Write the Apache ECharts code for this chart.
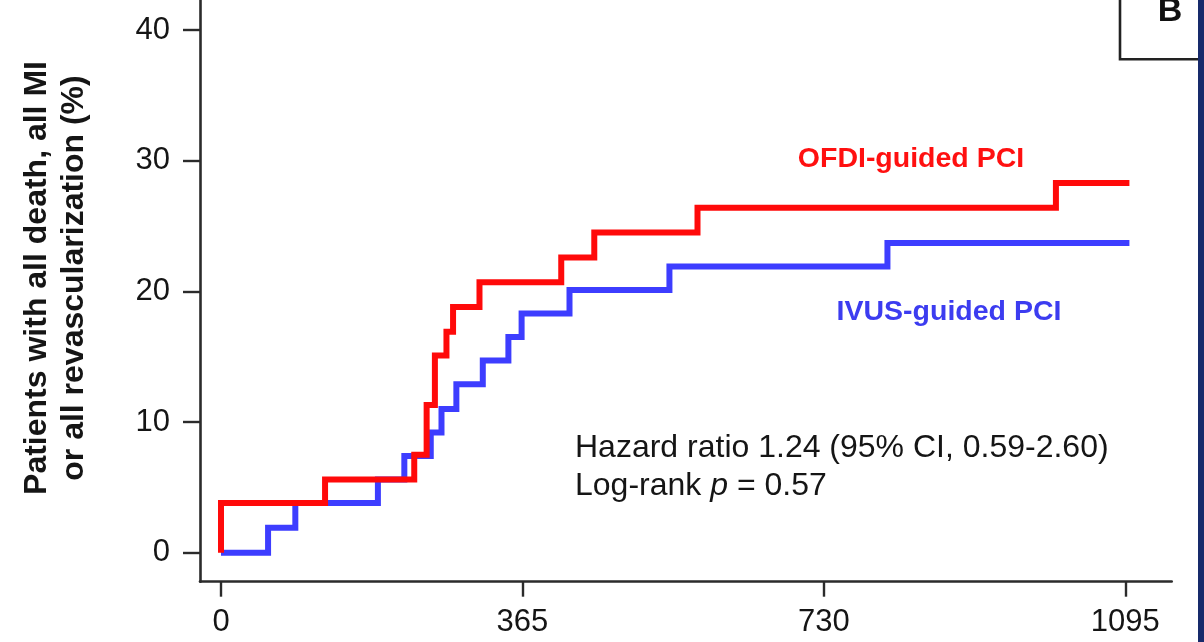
<!DOCTYPE html>
<html>
<head>
<meta charset="utf-8">
<script src="https://cdn.jsdelivr.net/npm/echarts@6.0.0/dist/echarts.min.js"></script>
<style>
  html, body { margin: 0; padding: 0; background: #fff; }
  #chart { width: 1204px; height: 642px; }
</style>
</head>
<body>
<div id="chart"></div>
<script>
// tick values
const xTicks = [0, 365, 730, 1095];
const yTicks = [0, 10, 20, 30, 40];

// OFDI-guided PCI, cumulative event rate (%) by day
const ofdiDays = [0, 0, 126, 234, 249, 259, 273, 281, 313, 412, 452, 577, 1011, 1100];
const ofdiPct  = [0, 3.8, 5.6, 7.5, 11.3, 15.1, 16.9, 18.8, 20.7, 22.6, 24.5, 26.4, 28.3, 28.3];

// IVUS-guided PCI
const ivusDays = [0, 57, 90, 190, 222, 254, 267, 285, 317, 348, 364, 422, 543, 807, 1100];
const ivusPct  = [0, 1.9, 3.8, 5.6, 7.4, 9.2, 11.0, 12.9, 14.7, 16.5, 18.3, 20.1, 21.9, 23.7, 23.7];

const font = '"Liberation Sans", Arial, Helvetica, sans-serif';
const ink = '#151515';

const zip = (xs, ys) => xs.map((x, i) => [x, ys[i]]);

const chart = echarts.init(document.getElementById('chart'), null, { renderer: 'canvas' });

chart.setOption({
  animation: false,
  backgroundColor: '#ffffff',
  grid: { left: 200, right: 32.3, top: 0, bottom: 60.3 },
  xAxis: {
    type: 'value',
    min: -25.43,
    max: 1151.2,
    splitLine: { show: false },
    axisLine: { onZero: false, lineStyle: { color: '#2b2b2b', width: 2.6 } },
    axisTick: { customValues: xTicks, length: 15, lineStyle: { color: '#2b2b2b', width: 2.4 } },
    axisLabel: {
      customValues: xTicks, margin: 25, fontSize: 31, color: ink, fontFamily: font,
      formatter: (v) => String(v)
    }
  },
  yAxis: {
    type: 'value',
    min: -2.219,
    max: 42.296,
    splitLine: { show: false },
    axisLine: { show: true, onZero: false, lineStyle: { color: '#2b2b2b', width: 2.6 } },
    axisTick: { show: true, customValues: yTicks, length: 17, lineStyle: { color: '#2b2b2b', width: 2.4 } },
    axisLabel: {
      customValues: yTicks, margin: 30, fontSize: 31, color: ink, fontFamily: font,
      formatter: (v) => String(v)
    }
  },
  series: [
    {
      name: 'IVUS-guided PCI',
      type: 'line',
      step: 'end',
      showSymbol: false,
      z: 2,
      data: zip(ivusDays, ivusPct),
      lineStyle: { color: '#3d3dff', width: 6, join: 'miter' }
    },
    {
      name: 'OFDI-guided PCI',
      type: 'line',
      step: 'end',
      showSymbol: false,
      z: 3,
      data: zip(ofdiDays, ofdiPct),
      lineStyle: { color: '#ff0a0a', width: 6, join: 'miter' }
    }
  ],
  graphic: [
    {
      type: 'text', x: 56, y: 278, rotation: Math.PI / 2,
      style: {
        text: 'Patients with all death, all MI\nor all revascularization (%)',
        font: 'bold 32px ' + font, fill: ink,
        align: 'center', verticalAlign: 'middle', lineHeight: 37
      }
    },
    {
      type: 'text', x: 911, y: 159,
      style: { text: 'OFDI-guided PCI', font: 'bold 28.5px ' + font, fill: '#ff1010', align: 'center', verticalAlign: 'middle' }
    },
    {
      type: 'text', x: 949, y: 312,
      style: { text: 'IVUS-guided PCI', font: 'bold 28.5px ' + font, fill: '#3c3cf0', align: 'center', verticalAlign: 'middle' }
    },
    {
      type: 'text', x: 575, y: 448,
      style: { text: 'Hazard ratio 1.24 (95% CI, 0.59-2.60)', font: '32px ' + font, fill: ink, align: 'left', verticalAlign: 'middle' }
    },
    {
      type: 'text', x: 575, y: 486,
      style: {
        text: 'Log-rank {i|p} = 0.57', font: '32px ' + font, fill: ink, align: 'left', verticalAlign: 'middle',
        rich: { i: { fontStyle: 'italic', fontSize: 32, fontFamily: font, fill: ink } }
      }
    },
    {
      type: 'rect', shape: { x: 1120, y: -5, width: 100, height: 64.3 },
      style: { fill: 'none', stroke: '#222', lineWidth: 2.6 }
    },
    {
      type: 'text', x: 1170, y: 12,
      style: { text: 'B', font: 'bold 34px ' + font, fill: '#111', align: 'center', verticalAlign: 'middle' }
    },
    {
      type: 'rect', shape: { x: 1198, y: 0, width: 6, height: 642 },
      style: { fill: '#172a6b' }
    }
  ]
});
</script>
</body>
</html>
